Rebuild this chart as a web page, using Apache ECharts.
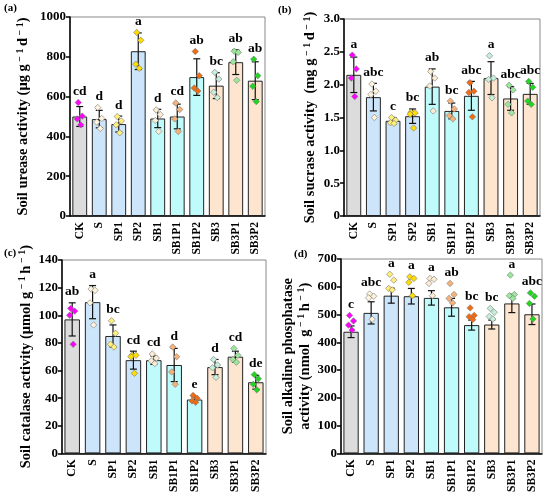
<!DOCTYPE html>
<html>
<head>
<meta charset="utf-8">
<script src="https://cdn.jsdelivr.net/npm/echarts@6/dist/echarts.min.js"></script>
<style>
html, body { margin: 0; padding: 0; background: #fff; }
#main { width: 550px; height: 495px; }
</style>
</head>
<body>
<div id="main"></div>
<script>
var categories = ['CK', 'S', 'SP1', 'SP2', 'SB1', 'SB1P1', 'SB1P2', 'SB3', 'SB3P1', 'SB3P2'];

// (a) urease
var ureaseMean = [500, 487, 462, 828, 490, 500, 698, 655, 773, 680];
var ureaseSd = [50, 44, 40, 92, 46, 62, 92, 65, 62, 95];
var ureasePoints = [
    [570, 502, 488, 458], [545, 490, 472, 440], [500, 478, 458, 418], [922, 883, 763, 742],
    [533, 510, 480, 425], [568, 535, 488, 425], [827, 705, 643, 628], [722, 688, 622, 595],
    [828, 822, 775, 682], [788, 705, 652, 575]
];
var ureaseLetters = ['cd', 'd', 'd', 'a', 'd', 'cd', 'ab', 'bc', 'ab', 'ab'];

// (b) sucrase
var sucraseMean = [2.15, 1.81, 1.45, 1.52, 1.97, 1.60, 1.83, 2.10, 1.79, 1.86];
var sucraseSd = [0.27, 0.21, 0.05, 0.11, 0.27, 0.12, 0.22, 0.25, 0.18, 0.16];
var sucrasePoints = [
    [2.45, 2.24, 2.10, 1.82], [2.01, 1.90, 1.85, 1.50], [1.50, 1.46, 1.42, 1.41], [1.58, 1.57, 1.55, 1.34],
    [2.20, 2.10, 1.98, 1.60], [1.75, 1.63, 1.53, 1.48], [2.03, 1.90, 1.88, 1.51], [2.44, 2.10, 2.08, 1.80],
    [1.99, 1.92, 1.70, 1.57], [2.05, 1.96, 1.75, 1.70]
];
var sucraseLetters = ['a', 'abc', 'c', 'bc', 'ab', 'bc', 'abc', 'a', 'abc', 'abc'];

// (c) catalase
var catalaseMean = [97, 109.5, 85, 67.5, 67.5, 64, 39, 62.5, 70, 51.5];
var catalaseSd = [12, 12, 8, 6.5, 3, 12, 2, 5.5, 4, 5];
var catalasePoints = [
    [105, 103, 100, 79], [119, 118, 109, 93], [96, 87, 79, 77], [71, 71, 70, 58],
    [72, 69, 67, 65], [77, 70, 59, 50], [42, 40, 38, 37], [68, 64, 62, 55],
    [76, 71, 68, 66], [57, 54, 50, 46]
];
var catalaseLetters = ['ab', 'a', 'bc', 'cd', 'cd', 'd', 'e', 'd', 'cd', 'de'];

// (d) alkaline phosphatase
var phosMean = [438, 506, 568, 566, 560, 526, 462, 464, 540, 501];
var phosSd = [21, 40, 27, 28, 26, 32, 18, 16, 33, 37];
var phosPoints = [
    [497, 477, 462, 444], [574, 566, 560, 483], [645, 624, 594, 589], [636, 630, 616, 568],
    [630, 627, 612, 568], [612, 572, 558, 542], [524, 497, 492, 482], [522, 508, 493, 484],
    [642, 572, 568, 558], [578, 566, 540, 484]
];
var phosLetters = ['c', 'abc', 'a', 'a', 'a', 'ab', 'bc', 'bc', 'a', 'abc'];

var barColors = ['#dcdcdc', '#cce5fa', '#cce5fa', '#cce5fa', '#c0fbfc', '#c0fbfc', '#c0fbfc',
    '#fde5d0', '#fde5d0', '#fde5d0'];
var dotColors = ['#ff00ff', '#fff3dc', '#ffee77', '#ffdd00', '#fbecd4', '#f7b27a', '#f26b10',
    '#c6efdc', '#9be79b', '#1ed81e'];
var jitter = [-1.5, 2.5, -2.5, 1];
var serif = 'Liberation Serif';

var nameRich = {
    t: {fontFamily: serif, fontWeight: 'bold', fontSize: 14.5, color: '#000', lineHeight: 17},
    s: {fontFamily: serif, fontWeight: 'bold', fontSize: 10, color: '#000', lineHeight: 17, verticalAlign: 'top'}
};

var panels = [
    {mean: ureaseMean, sd: ureaseSd, pts: ureasePoints, letters: ureaseLetters,
        max: 1000, interval: 200,
        name: '{t|Soil urease activity (μg g}{s| − 1 }{t|d}{s| − 1}{t|)}', nameGap: 38,
        grid: {left: 70, right: 285, top: 17, bottom: 279}},
    {mean: sucraseMean, sd: sucraseSd, pts: sucrasePoints, letters: sucraseLetters,
        max: 3, interval: 0.5,
        name: '{t|Soil sucrase activity  (mg g}{s| − 1 }{t|d}{s| − 1}{t|)}', nameGap: 25,
        grid: {left: 344, right: 10, top: 19, bottom: 279}},
    {mean: catalaseMean, sd: catalaseSd, pts: catalasePoints, letters: catalaseLetters,
        max: 140, interval: 20,
        name: '{t|Soil catalase activity (μmol g}{s| − 1 }{t|h}{s| − 1}{t|)}', nameGap: 25,
        grid: {left: 62, right: 284, top: 260, bottom: 39}},
    {mean: phosMean, sd: phosSd, pts: phosPoints, letters: phosLetters,
        max: 700, interval: 100,
        name: '{t|Soil alkaline phosphatase}\n{t|activity (nmol  g}{s| − 1 }{t|h}{s| − 1}{t|)}', nameGap: 27,
        grid: {left: 341, right: 8, top: 259, bottom: 39}}
];

var grids = [], xAxes = [], yAxes = [], series = [];

panels.forEach(function (p, i) {
    grids.push({
        left: p.grid.left, right: p.grid.right, top: p.grid.top, bottom: p.grid.bottom,
        show: true, borderColor: '#888', borderWidth: 1
    });
    xAxes.push({
        type: 'category', gridIndex: i, data: categories,
        axisLine: {lineStyle: {color: '#000', width: 1.5}},
        axisTick: {show: false},
        axisLabel: {rotate: 90, color: '#000', fontFamily: serif, fontWeight: 'bold', fontSize: 11.5, margin: 6}
    });
    yAxes.push({
        type: 'value', gridIndex: i, min: 0, max: p.max, interval: p.interval,
        name: p.name, nameLocation: 'middle', nameRotate: 90, nameGap: p.nameGap,
        nameTextStyle: {rich: nameRich, lineHeight: 17},
        splitLine: {show: false},
        axisLine: {show: true, lineStyle: {color: '#000', width: 1.5}},
        axisTick: {show: true, length: 4, lineStyle: {color: '#000', width: 1.5}},
        axisLabel: {
            color: '#000', fontFamily: serif, fontWeight: 'bold', fontSize: 13, margin: 4,
            formatter: function (v) {
                if (p.interval < 1) return v === 0 ? '0' : v.toFixed(1);
                return String(v);
            }
        }
    });

    series.push({
        type: 'bar', xAxisIndex: i, yAxisIndex: i, barCategoryGap: '24%',
        data: p.mean,
        itemStyle: {
            color: function (params) {
                return barColors[params.dataIndex];
            },
            borderColor: '#222', borderWidth: 1
        },
        silent: true
    });

    // error bars
    var errData = p.mean.map(function (m, k) {
        return [k, m - p.sd[k], m + p.sd[k]];
    });
    series.push({
        type: 'custom', xAxisIndex: i, yAxisIndex: i, data: errData, z: 5, silent: true,
        renderItem: function (params, api) {
            var lo = api.coord([api.value(0), api.value(1)]);
            var hi = api.coord([api.value(0), api.value(2)]);
            var w = 3.5;
            var style = {stroke: '#111', lineWidth: 1.2};
            return {
                type: 'group', children: [
                    {type: 'line', shape: {x1: lo[0], y1: lo[1], x2: hi[0], y2: hi[1]}, style: style},
                    {type: 'line', shape: {x1: lo[0] - w, y1: lo[1], x2: lo[0] + w, y2: lo[1]}, style: style},
                    {type: 'line', shape: {x1: hi[0] - w, y1: hi[1], x2: hi[0] + w, y2: hi[1]}, style: style}
                ]
            };
        }
    });

    // individual points
    var ptData = [];
    p.pts.forEach(function (arr, k) {
        arr.forEach(function (v, j) {
            ptData.push([k, v, j]);
        });
    });
    series.push({
        type: 'custom', xAxisIndex: i, yAxisIndex: i, data: ptData, z: 6, silent: true,
        renderItem: function (params, api) {
            var c = api.coord([api.value(0), api.value(1)]);
            var x = c[0] + jitter[api.value(2)], y = c[1], s = 3.2;
            return {
                type: 'polygon',
                shape: {points: [[x, y - s], [x + s, y], [x, y + s], [x - s, y]]},
                style: {fill: dotColors[api.value(0)], stroke: '#777', lineWidth: 0.6}
            };
        }
    });

    // significance letters
    var letterData = p.mean.map(function (m, k) {
        var top = Math.max(m + p.sd[k], Math.max.apply(null, p.pts[k]));
        return [k, top, p.letters[k]];
    });
    series.push({
        type: 'custom', xAxisIndex: i, yAxisIndex: i, data: letterData, z: 7, silent: true,
        renderItem: function (params, api) {
            var c = api.coord([api.value(0), api.value(1)]);
            return {
                type: 'text',
                style: {
                    x: c[0], y: c[1] - 4, text: p.letters[params.dataIndex],
                    align: 'center', verticalAlign: 'bottom',
                    font: 'bold 13.5px "Liberation Serif"', fill: '#000'
                }
            };
        }
    });
});

var option = {
    animation: false,
    backgroundColor: '#fff',
    grid: grids,
    xAxis: xAxes,
    yAxis: yAxes,
    series: series,
    graphic: [
        {type: 'text', left: 4, top: 3, style: {text: '(a)', font: 'bold 11px "Liberation Serif"', fill: '#000'}},
        {type: 'text', left: 278, top: 5, style: {text: '(b)', font: 'bold 11px "Liberation Serif"', fill: '#000'}},
        {type: 'text', left: 4, top: 248, style: {text: '(c)', font: 'bold 11px "Liberation Serif"', fill: '#000'}},
        {type: 'text', left: 294, top: 249, style: {text: '(d)', font: 'bold 11px "Liberation Serif"', fill: '#000'}}
    ]
};

var myChart = echarts.init(document.getElementById('main'));
myChart.setOption(option);
</script>
</body>
</html>
